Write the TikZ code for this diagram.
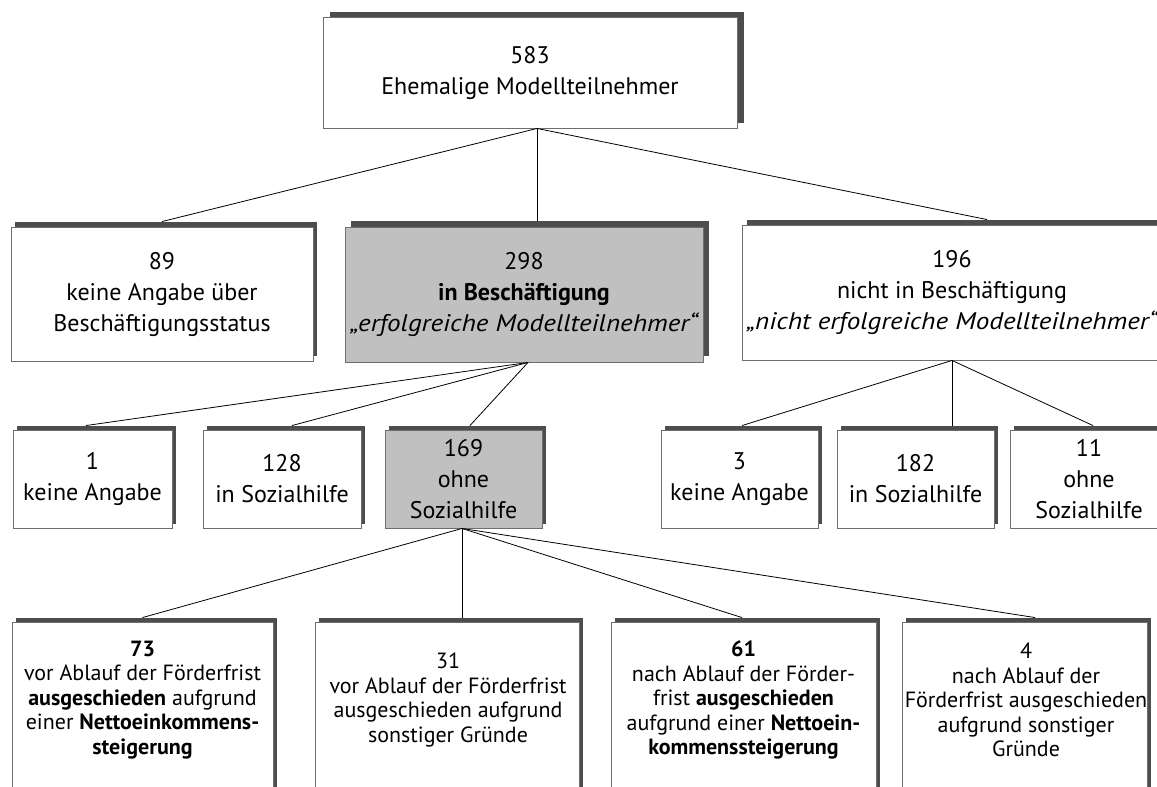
\documentclass[tikz,border=0pt]{standalone}
\usepackage{fontspec}
\setmainfont{PT Sans}
\newfontfamily\wideit{PT Sans}[FakeStretch=1.13]
\usetikzlibrary{shadows,calc}
\definecolor{shadowc}{HTML}{4D4D4D}
\definecolor{boxline}{HTML}{6E6E6E}
\definecolor{hilite}{HTML}{C0C0C0}
\begin{document}
\begin{tikzpicture}[x=1pt,y=-1pt,
  box/.style={draw=boxline, line width=0.9pt, fill=white, inner sep=0pt, align=center, font=\fontsize{24}{31}\selectfont},
  greybox/.style={fill=hilite},
  sha/.style 2 args={general shadow={fill=shadowc, shadow xshift=#1pt, shadow yshift=#2pt}},
  conn/.style={draw=black, line width=0.8pt},
  smalltext/.style={align=center, inner sep=0pt, font=\fontsize{22}{24.5}\selectfont}
]
\useasboundingbox (0,0) rectangle (1157,787);
\clip (0,0) rectangle (1157,787);

% row 1
\node[box, sha={7}{5}, minimum width=414pt, minimum height=111pt] (top) at (530,72.5) {583\\Ehemalige Modellteilnehmer};

% row 2
\node[box, sha={4}{5}, minimum width=302pt, minimum height=134pt] (b89) at (162,294) {89\\keine Angabe über\\Beschäftigungsstatus};
\node[box, greybox, sha={6}{6}, minimum width=358pt, minimum height=135pt] (b298) at (524,294.5) {298\\\textbf{in Beschäftigung}\\{\wideit\itshape „erfolgreiche Modellteilnehmer“}};
\node[box, sha={5}{5}, minimum width=420pt, minimum height=135pt] (b196) at (952,292.5) {196\\nicht in Beschäftigung\\{\wideit\itshape „nicht erfolgreiche Modellteilnehmer“}};

% row 3
\node[box, sha={4}{4}, minimum width=159pt, minimum height=98pt] (b1) at (92.5,479) {1\\keine Angabe};
\node[box, sha={4}{4}, minimum width=158pt, minimum height=98pt] (b128) at (282,479) {128\\in Sozialhilfe};
\node[box, greybox, sha={4}{4}, minimum width=157pt, minimum height=98pt] (b169) at (463.5,479) {169\\ohne\\Sozialhilfe};
\node[box, sha={4}{4}, minimum width=157pt, minimum height=98pt] (b3) at (739.5,479) {3\\keine Angabe};
\node[box, sha={4}{4}, minimum width=157pt, minimum height=98pt] (b182) at (915.5,479) {182\\in Sozialhilfe};
\node[box, sha={4}{4}, minimum width=158pt, minimum height=98pt] (b11) at (1089,479) {11\\ohne\\Sozialhilfe};

% row 4
\node[box, sha={4}{4}, minimum width=261pt, minimum height=178pt] (b73) at (142.5,711) {};
\node[box, sha={4}{4}, minimum width=264pt, minimum height=178pt] (b31) at (447,711) {};
\node[box, sha={4}{4}, minimum width=265pt, minimum height=178pt] (b61) at (743.5,711) {};
\node[box, sha={4}{4}, minimum width=245pt, minimum height=178pt] (b4) at (1024.5,711) {};
\node[smalltext] (t73) at (142.5,700) {\textbf{73}\\vor Ablauf der Förderfrist\\\textbf{ausgeschieden} aufgrund\\einer \textbf{Nettoeinkommens-}\\\textbf{steigerung}};
\node[smalltext] (t31) at (448,700) {31\\vor Ablauf der Förderfrist\\ausgeschieden aufgrund\\sonstiger Gründe};
\node[smalltext] (t61) at (743.5,700) {\textbf{61}\\nach Ablauf der Förder-\\frist \textbf{ausgeschieden}\\aufgrund einer \textbf{Nettoein-}\\\textbf{kommenssteigerung}};
\node[smalltext] (t4) at (1026,700) {4\\nach Ablauf der\\Förderfrist ausgeschieden\\aufgrund sonstiger\\Gründe};

% connectors
\draw[conn] ([xshift=7pt]top.south) -- ([yshift=5pt]b89.north);
\draw[conn] ([xshift=7pt]top.south) -- ([xshift=13pt,yshift=6pt]b298.north);
\draw[conn] ([xshift=7pt]top.south) -- ([xshift=35pt,yshift=5pt]b196.north);

\draw[conn] ([xshift=4pt]b298.south) -- ([xshift=-6.5pt,yshift=4pt]b1.north);
\draw[conn] ([xshift=4pt]b298.south) -- ([xshift=10pt,yshift=4pt]b128.north);
\draw[conn] ([xshift=4pt]b298.south) -- ([xshift=6.5pt,yshift=4pt]b169.north);

\draw[conn] (b196.south) -- ([xshift=2.5pt,yshift=4pt]b3.north);
\draw[conn] (b196.south) -- ([xshift=36.5pt,yshift=4pt]b182.north);
\draw[conn] (b196.south) -- ([xshift=4pt,yshift=4pt]b11.north);

\draw[conn] ([xshift=-1.5pt]b169.south) -- ([yshift=4pt]b73.north);
\draw[conn] ([xshift=-1.5pt]b169.south) -- ([xshift=15pt,yshift=4pt]b31.north);
\draw[conn] ([xshift=-1.5pt]b169.south) -- ([xshift=-1.5pt,yshift=4pt]b61.north);
\draw[conn] ([xshift=-1.5pt]b169.south) -- ([xshift=10.5pt,yshift=4pt]b4.north);
\end{tikzpicture}
\end{document}
